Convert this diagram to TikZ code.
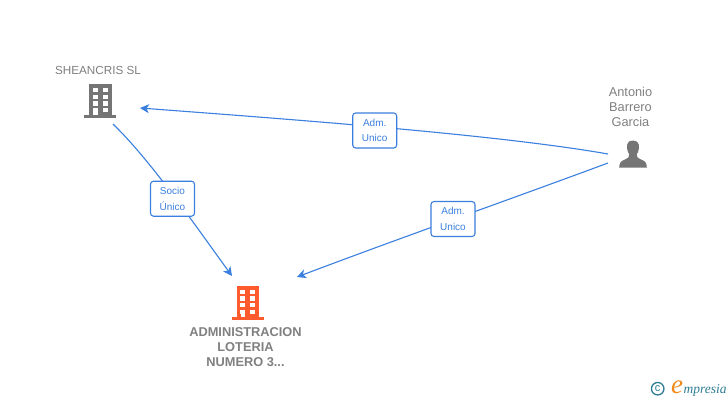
\documentclass[tikz,border=0pt]{standalone}
\usepackage{fontspec}
\setmainfont{Liberation Sans}
\newfontfamily\logofont{Liberation Serif}
\usetikzlibrary{arrows.meta}
\definecolor{linkblue}{HTML}{3B80DE}
\definecolor{greytext}{HTML}{808080}
\definecolor{icongrey}{HTML}{757575}
\definecolor{orangeicon}{HTML}{FF5B2E}
\definecolor{logoteal}{HTML}{2F7D94}
\definecolor{logoorange}{HTML}{F08A1D}
\tikzset{
  x=1pt,y=-1pt,
  linkline/.style={draw=linkblue,line width=1.1pt,-{Stealth[length=9pt,width=9pt,inset=2.5pt]}},
  linkbox/.style={draw=linkblue,fill=white,line width=1.1pt,rounded corners=3pt,minimum width=44pt,minimum height=35pt,inner sep=0pt,align=center,text=linkblue,font=\fontsize{10}{15.5}\selectfont},
  nodetext/.style={text=greytext,align=center,inner sep=0pt,font=\fontsize{11.7}{15}\selectfont},
  persontext/.style={text=greytext,align=center,inner sep=0pt,font=\fontsize{12.8}{15}\selectfont},
  boldtext/.style={text=greytext,align=center,inner sep=0pt,font=\fontsize{12.8}{15}\selectfont\bfseries},
  pics/buildingicon/.style={code={
    \fill[#1] (-11.2,0) rectangle (11.2,31.5);
    \fill[#1] (-16,30.5) rectangle (16,33.8);
    \foreach \yy in {3.7,10.4,17,23.7}{
      \fill[white] (-7.6,\yy) rectangle (-2.6,\yy+4.4);
    }
    \foreach \yy in {3.7,10.4,17,23.7}{
      \fill[white] (2.2,\yy) rectangle (7.2,\yy+4.4);
    }
    \fill[white] (-7.2,23.9) rectangle (-2.8,30.7);
  }},
}
\begin{document}
\begin{tikzpicture}
\useasboundingbox (0,0) rectangle (728,400);
\fill[white] (0,0) rectangle (728,400);

% endpoints
\coordinate (socioS) at (113,124);
\coordinate (socioE) at (232,276);
\coordinate (admaS) at (608,154);
\coordinate (admaE) at (140,108);
\coordinate (admbS) at (608,163);
\coordinate (admbE) at (297,277);

% connectors
\path[linkline] (socioS) .. controls (150,160) and (190,218) .. (socioE);
\path[linkline] (admaS) .. controls (500,135) and (300,120) .. (admaE);
\path[linkline] (admbS) .. controls (500,203) and (400,238) .. (admbE);

% edge labels
\node[linkbox] (lblsocio) at (172.5,198.7) {Socio\\Único};
\node[linkbox] (lbladma) at (374.7,130.5) {Adm.\\Unico};
\node[linkbox] (lbladmb) at (453,219) {Adm.\\Unico};

% icons
\pic at (100.3,84.3) {buildingicon=icongrey};
\pic at (247.7,286) {buildingicon=orangeicon};
\fill[icongrey] (632.7,140.5) .. controls (628.3,140.5) and (626.5,144) .. (627,148)
  .. controls (627.3,151) and (628.3,153) .. (629.3,154.5)
  .. controls (629.5,157) and (628,158.5) .. (625,159.5)
  .. controls (621,161) and (619.3,162.5) .. (619.2,167.5)
  -- (646.8,167.5)
  .. controls (646.7,162.5) and (645,161) .. (641,159.5)
  .. controls (638,158.5) and (636.5,157) .. (636.7,154.5)
  .. controls (637.7,153) and (638.7,151) .. (639,148)
  .. controls (639.5,144) and (637.7,140.5) .. (632.7,140.5) -- cycle;

% node labels
\node[nodetext] (sheancris) at (98,70) {SHEANCRIS SL};
\node[boldtext] (admin) at (245.5,347) {ADMINISTRACION\\LOTERIA\\NUMERO 3...};
\node[persontext] (antonio) at (630.5,107) {Antonio\\Barrero\\Garcia};

% logo
\node[circle,draw=logoteal,line width=1.3pt,minimum size=12.5pt,inner sep=0pt,text=logoteal,font=\fontsize{11}{11}\selectfont] (logoc) at (657.7,388.7) {c};
\node[anchor=base west,inner sep=0pt,text=logoorange,font=\logofont\itshape\fontsize{27}{27}\selectfont] (logoe) at (671,393) {e};
\node[anchor=base west,inner sep=0pt,text=logoteal,font=\logofont\itshape\fontsize{13.5}{13.5}\selectfont] (logot) at (683.5,393) {mpresia};
\end{tikzpicture}
\end{document}
